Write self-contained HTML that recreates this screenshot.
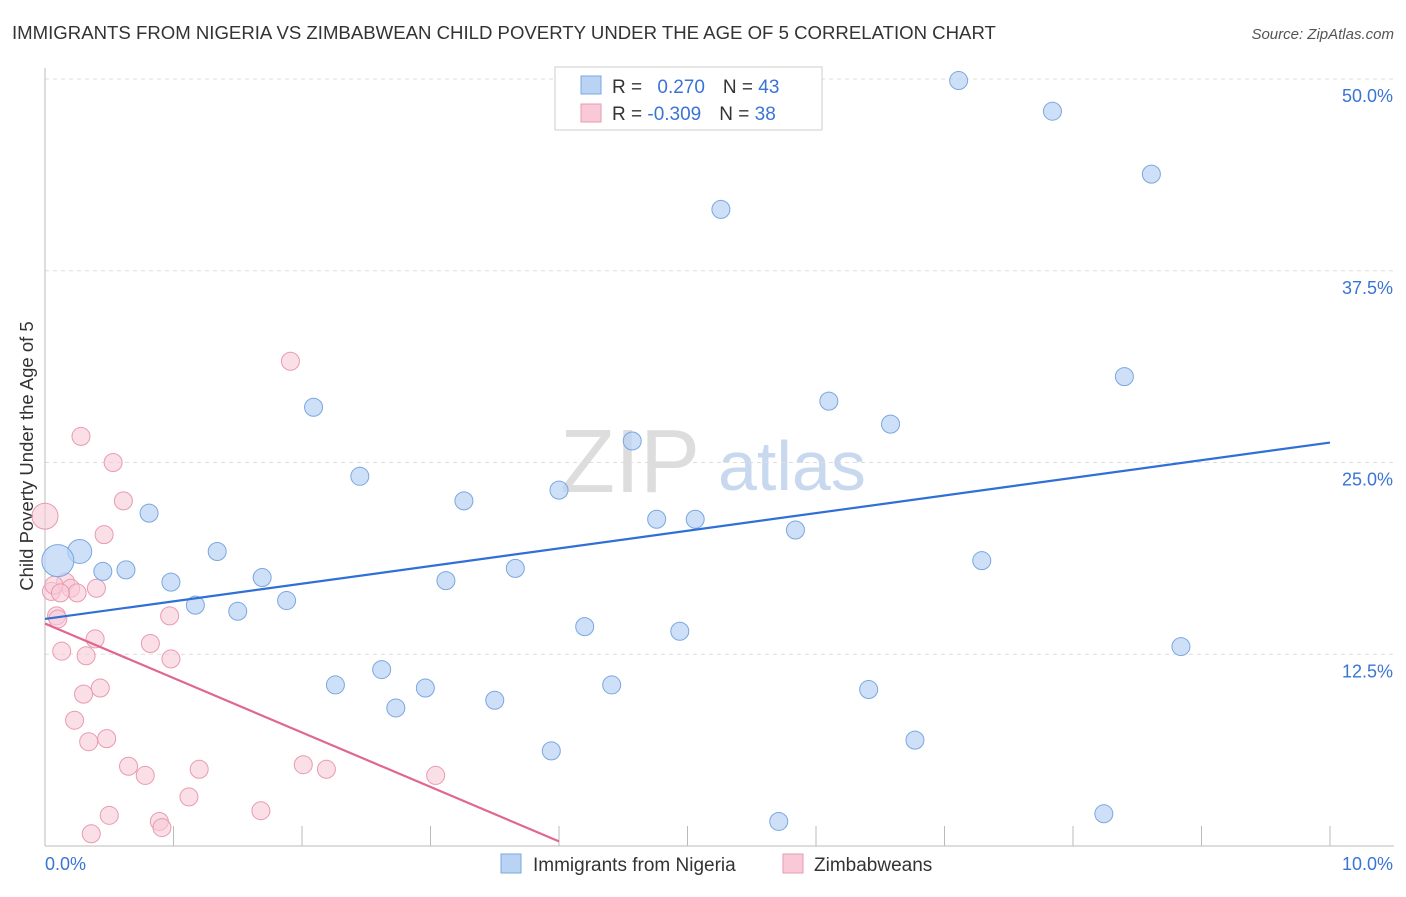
<!DOCTYPE html>
<html><head><meta charset="utf-8"><style>
body{margin:0;background:#fff;font-family:"Liberation Sans",sans-serif;}
svg text{font-family:"Liberation Sans",sans-serif;}
</style></head><body>
<svg id="chart" width="1406" height="892">
<text x="12" y="39" font-size="18.6" fill="#333">IMMIGRANTS FROM NIGERIA VS ZIMBABWEAN CHILD POVERTY UNDER THE AGE OF 5 CORRELATION CHART</text>
<text x="1394" y="39" font-size="15" fill="#555" text-anchor="end" font-style="italic">Source: ZipAtlas.com</text>
<text x="33" y="456" font-size="18.5" fill="#333" text-anchor="middle" transform="rotate(-90 33 456)">Child Poverty Under the Age of 5</text>
<text x="560" y="492" font-size="90" fill="#ddd" font-family="Liberation Serif">ZIP</text>
<text x="718" y="490" font-size="70" fill="#c8d8ee">atlas</text>
<g id="grid"></g><g id="pts"></g><g id="trend"></g>
<g>
<rect x="555" y="67" width="267" height="63" fill="#fff" stroke="#ccc"/>
<rect x="581" y="76" width="20" height="18" fill="#b9d3f5" stroke="#7aa7e0"/>
<rect x="581" y="104" width="20" height="18" fill="#f9c9d7" stroke="#e89ab2"/>
<text x="612" y="93" font-size="19" fill="#333">R = <tspan fill="#3a74d6" dx="10">0.270</tspan><tspan dx="18" fill="#333">N = </tspan><tspan fill="#3a74d6">43</tspan></text>
<text x="612" y="120" font-size="19" fill="#333">R = <tspan fill="#3a74d6">-0.309</tspan><tspan dx="18" fill="#333">N = </tspan><tspan fill="#3a74d6">38</tspan></text>
</g>
<g>
<rect x="501" y="854" width="20" height="19" fill="#b9d3f5" stroke="#7aa7e0"/>
<text x="533" y="871" font-size="19" fill="#333">Immigrants from Nigeria</text>
<rect x="783" y="854" width="20" height="19" fill="#f9c9d7" stroke="#e89ab2"/>
<text x="814" y="871" font-size="19" fill="#333">Zimbabweans</text>
</g>
</svg>
<script>
const yTicks=[12.5,25,37.5,50];
const yTickLabels=["12.5%","25.0%","37.5%","50.0%"];
const xTicks=[0,1,2,3,4,5,6,7,8,9,10];
const blueX=[7.11,7.84,8.61,5.26,8.4,6.1,2.09,6.58,4.57,2.45,4.0,3.26,0.81,4.76,5.06,5.84,1.34,0.27,0.1,7.29,0.45,0.63,3.66,0.98,1.69,3.12,1.88,1.17,1.5,4.2,4.94,8.84,2.62,2.26,4.41,2.96,6.41,3.5,2.73,6.77,3.94,8.24,5.71];
const blueY=[49.9,47.9,43.8,41.5,30.6,29.0,28.6,27.5,26.4,24.1,23.2,22.5,21.7,21.3,21.3,20.6,19.2,19.2,18.6,18.6,17.9,18.0,18.1,17.2,17.5,17.3,16.0,15.7,15.3,14.3,14.0,13.0,11.5,10.5,10.5,10.3,10.2,9.5,9.0,6.9,6.2,2.1,1.6];
const blueR=[9,9,9,9,9,9,9,9,9,9,9,9,9,9,9,9,9,12,16,9,9,9,9,9,9,9,9,9,9,9,9,9,9,9,9,9,9,9,9,9,9,9,9];
const pinkX=[1.91,0.28,0.53,0.61,0,0.46,0.16,0.2,0.4,0.05,0.25,0.09,0.1,0.97,0.39,0.82,0.13,0.32,0.98,0.43,0.3,0.23,0.34,0.48,0.65,0.78,1.2,2.01,2.19,3.04,1.12,0.5,1.68,0.89,0.91,0.36,0.07,0.12];
const pinkY=[31.6,26.7,25.0,22.5,21.5,20.3,17.2,16.8,16.8,16.6,16.5,15.0,14.8,15.0,13.5,13.2,12.7,12.4,12.2,10.3,9.9,8.2,6.8,7.0,5.2,4.6,5.0,5.3,5.0,4.6,3.2,2.0,2.3,1.6,1.2,0.8,17.0,16.5];
const pinkR=[9,9,9,9,13,9,9,9,9,9,9,9,9,9,9,9,9,9,9,9,9,9,9,9,9,9,9,9,9,9,9,9,9,9,9,9,9,9];
const blueTrendX=[0,10],blueTrendY=[14.8,26.3];
const pinkTrendX=[0,4],pinkTrendY=[14.5,0.3];
const NS="http://www.w3.org/2000/svg";
const X0=45,X1=1330,Y0=846,YT=79;
const sx=v=>X0+(X1-X0)*v/10, sy=v=>Y0-(Y0-YT)*v/50;
function mk(t,a,p){const e=document.createElementNS(NS,t);for(const k in a)e.setAttribute(k,a[k]);p.appendChild(e);return e;}
const grid=document.getElementById('grid');
yTicks.forEach((t,i)=>{
 const l=mk('line',{x1:X0,x2:1394,y1:sy(t),y2:sy(t),stroke:'#ddd','stroke-dasharray':'4,4'},grid);
 
 
 const tx=mk('text',{x:1393,y:sy(t)+23,'font-size':18,fill:'#3a74d6','text-anchor':'end'},grid);
 tx.textContent=yTickLabels[i];
 
 
});
const ax=mk('line',{x1:X0,x2:1394,y1:Y0,y2:Y0,stroke:'#bbb'},grid);


const ay=mk('line',{x1:X0,x2:X0,y1:68,y2:Y0,stroke:'#bbb'},grid);


xTicks.forEach(t=>{
 const l=mk('line',{x1:sx(t),x2:sx(t),y1:Y0,y2:Y0-20,stroke:'#bbb'},grid);
 
 
});
const xl0=mk('text',{x:45,y:870,'font-size':18,fill:'#3a74d6'},grid);xl0.textContent='0.0%';


const xl1=mk('text',{x:1393,y:870,'font-size':18,fill:'#3a74d6','text-anchor':'end'},grid);xl1.textContent='10.0%';


const pts=document.getElementById('pts');
pinkX.forEach((v,i)=>{
 const c=mk('circle',{cx:sx(v),cy:sy(pinkY[i]),r:pinkR[i],fill:'#f9c9d7','fill-opacity':0.6,stroke:'#e89ab2'},pts);
 
 
});
blueX.forEach((v,i)=>{
 const c=mk('circle',{cx:sx(v),cy:sy(blueY[i]),r:blueR[i],fill:'#b9d3f5','fill-opacity':0.7,stroke:'#7aa7e0'},pts);
 
 
});
const tr=document.getElementById('trend');
const bl=mk('line',{x1:sx(blueTrendX[0]),y1:sy(blueTrendY[0]),x2:sx(blueTrendX[1]),y2:sy(blueTrendY[1]),stroke:'#2f6fd6','stroke-width':2.2},tr);


const pl=mk('line',{x1:sx(pinkTrendX[0]),y1:sy(pinkTrendY[0]),x2:sx(pinkTrendX[1]),y2:sy(pinkTrendY[1]),stroke:'#e0678f','stroke-width':2.2},tr);


</script>
</body></html>
